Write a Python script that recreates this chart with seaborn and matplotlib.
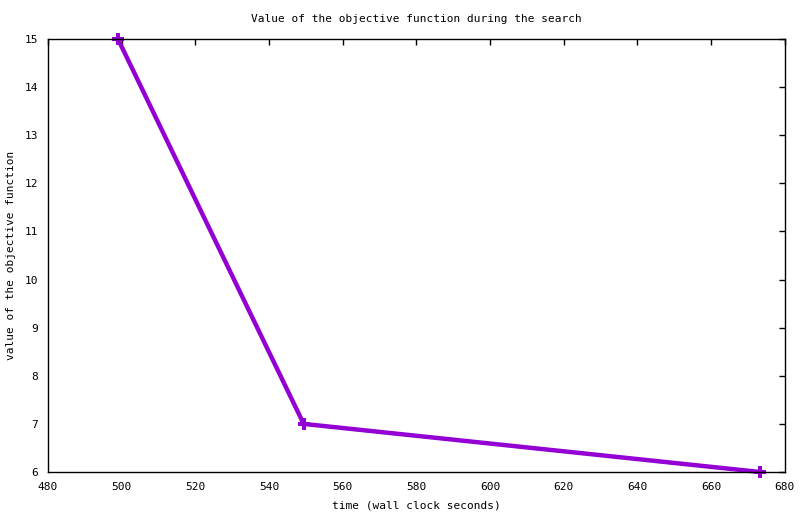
import pandas as pd
import seaborn as sns
import matplotlib.pyplot as plt

# values
time_s = [499.0, 549.4, 673.3]
objective = [15, 7, 6]

df = pd.DataFrame({'time': time_s, 'objective': objective})

sns.set_style('white')
plt.rcParams['font.family'] = ['DejaVu Sans Mono']
plt.rcParams['font.size'] = 8
plt.rcParams['text.color'] = 'black'
plt.rcParams['axes.labelcolor'] = 'black'

fig = plt.figure(figsize=(8, 5.14), dpi=100)
ax = fig.add_axes([0.06, 0.0817, 0.921, 0.8423])

sns.lineplot(data=df, x='time', y='objective', ax=ax, color='#9400d3',
             linewidth=3.2, marker='P', markersize=9, markeredgewidth=0,
             clip_on=False)

ax.set_xlim(480, 680)
ax.set_ylim(6, 15)
ax.set_xticks(range(480, 681, 20))
ax.set_yticks(range(6, 16))
ax.tick_params(direction='in', top=True, right=True, length=4.5, width=1,
               labelsize=8, colors='black', pad=7)
for s in ax.spines.values():
    s.set_color('black')
    s.set_linewidth(1)

ax.set_xlabel('time (wall clock seconds)', fontsize=8, labelpad=6)
ax.set_ylabel('value of the objective function', fontsize=8, labelpad=6)
ax.set_title('Value of the objective function during the search', fontsize=8, pad=12)

plt.savefig('out.png', dpi=100)
